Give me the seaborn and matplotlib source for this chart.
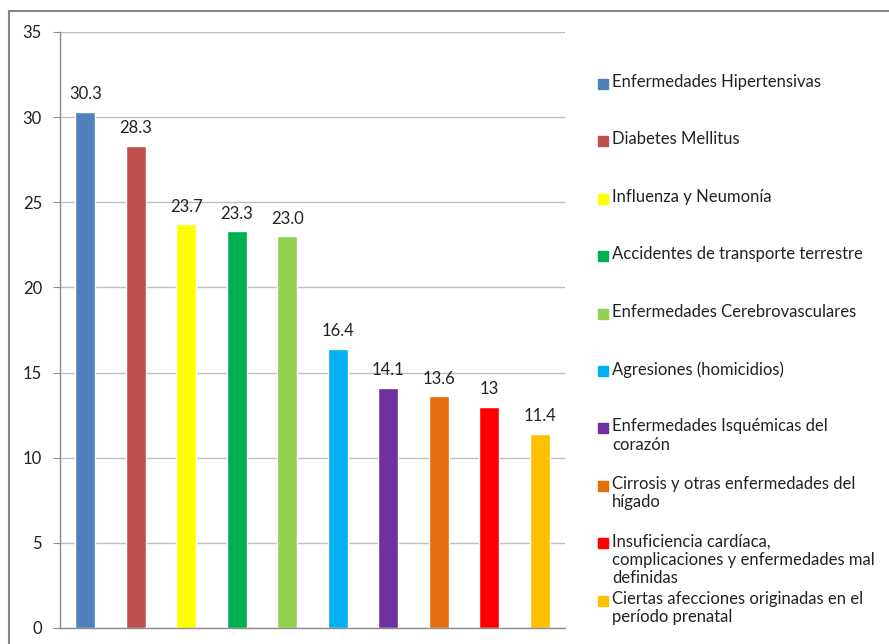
import matplotlib
matplotlib.use("Agg")
import matplotlib.pyplot as plt
from matplotlib.patches import Rectangle
import pandas as pd
import seaborn as sns

# Data
categories = [
    "Enfermedades Hipertensivas",
    "Diabetes Mellitus",
    "Influenza y Neumonía",
    "Accidentes de transporte terrestre",
    "Enfermedades Cerebrovasculares",
    "Agresiones (homicidios)",
    "Enfermedades Isquémicas del\ncorazón",
    "Cirrosis y otras enfermedades del\nhígado",
    "Insuficiencia cardíaca,\ncomplicaciones y enfermedades mal\ndefinidas",
    "Ciertas afecciones originadas en el\nperíodo prenatal",
]
values = [30.3, 28.3, 23.7, 23.3, 23.0, 16.4, 14.1, 13.6, 13, 11.4]
value_labels = ["30.3", "28.3", "23.7", "23.3", "23.0", "16.4", "14.1", "13.6", "13", "11.4"]
colors = ["#4F81BD", "#C0504D", "#FFFF00", "#00B050", "#92D050",
          "#00B0F0", "#7030A0", "#E46C0A", "#FF0000", "#FFC000"]
y_ticks = [0, 5, 10, 15, 20, 25, 30, 35]

df = pd.DataFrame({"cause": categories, "rate": values})

sns.set_style("white")
plt.rcParams["font.family"] = ["Lato", "DejaVu Sans"]

W, H = 889, 644
fig = plt.figure(figsize=(W / 100, H / 100), dpi=100)
ax = fig.add_axes([60 / W, 1 - 628 / H, 505 / W, 596 / H])

sns.barplot(data=df, x="cause", y="rate", hue="cause", palette=colors,
            width=0.4, legend=False, ax=ax, saturation=1)

ax.set_ylim(0, 35)
ax.set_xlim(-0.5, len(categories) - 0.5)
ax.set_yticks(y_ticks)
ax.set_yticklabels([str(t) for t in y_ticks], fontsize=12, color="#222222")
ax.set_xticks([])
ax.set_xlabel("")
ax.set_ylabel("")
ax.yaxis.grid(True, color="#BEBEBE", linewidth=1)
ax.set_axisbelow(True)
for side in ["top", "right"]:
    ax.spines[side].set_visible(False)
for side in ["left", "bottom"]:
    ax.spines[side].set_color("#8C8C8C")
    ax.spines[side].set_linewidth(1)
ax.tick_params(axis="y", length=5, color="#8C8C8C", pad=8, left=True)

# data labels
for i, (v, lab) in enumerate(zip(values, value_labels)):
    ax.annotate(lab, (i, v), xytext=(0, 7), textcoords="offset points",
                ha="center", va="bottom", fontsize=12, color="#222222")

# legend laid out like the Excel one (marker aligned to first line)
for i, (name, col) in enumerate(zip(categories, colors)):
    yc = 84 + 57.4 * i
    fig.patches.append(Rectangle((598 / W, 1 - (yc + 5) / H), 10 / W, 10 / H,
                                 transform=fig.transFigure, color=col, figure=fig))
    fig.text(612 / W, 1 - (yc - 10) / H, name, fontsize=12, color="#222222",
             ha="left", va="top", linespacing=1.2)

# chart border (cut off at the right and bottom)
fig.patches.append(Rectangle((9 / W, -0.1), 1.2, 1 - 11 / H + 0.1,
                             transform=fig.transFigure, fill=False,
                             edgecolor="#868686", linewidth=1.5, figure=fig))

fig.savefig("out.png", dpi=100)
